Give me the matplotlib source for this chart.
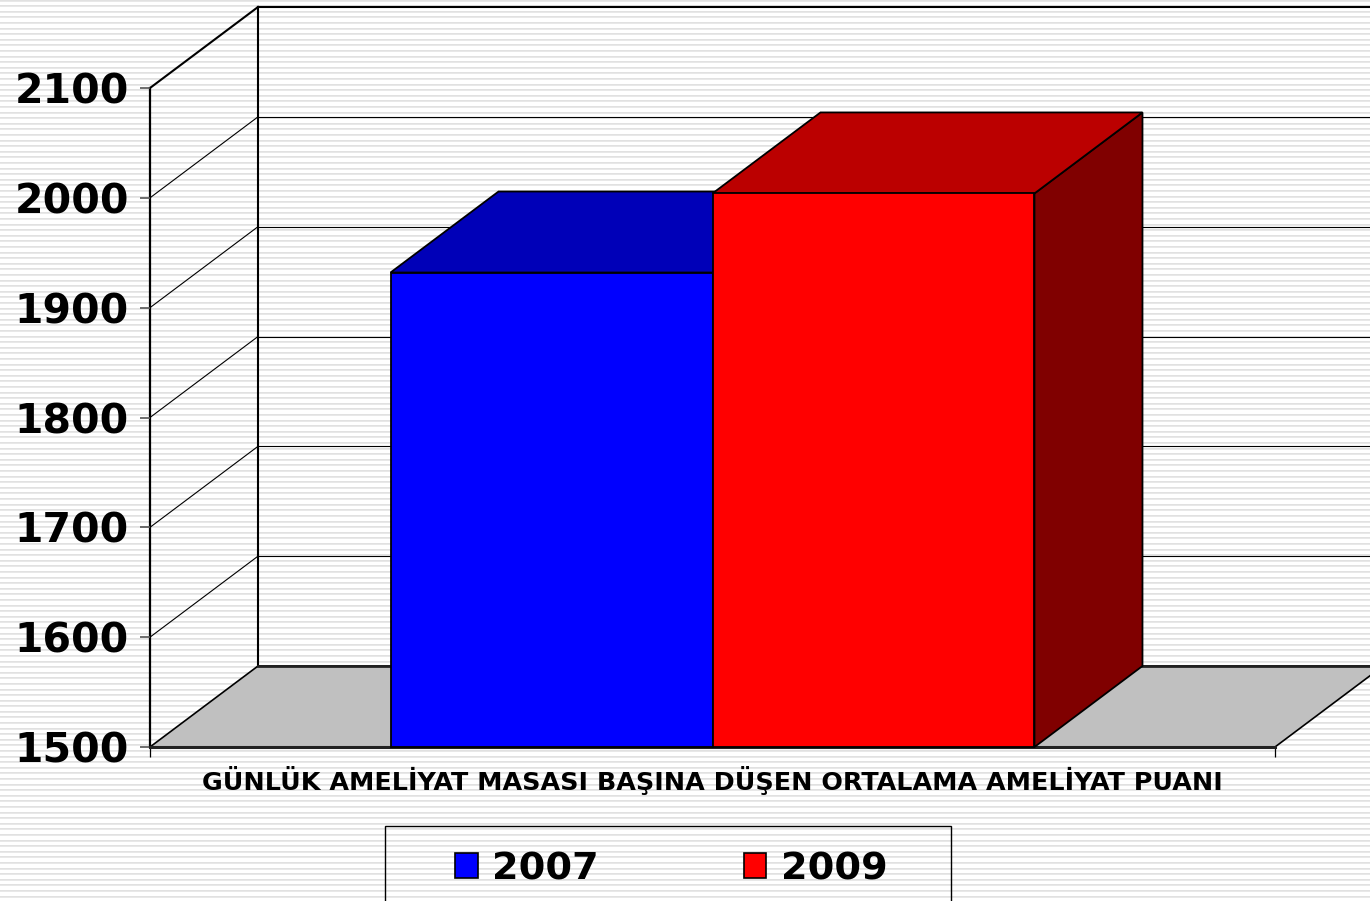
import numpy as np
import matplotlib
matplotlib.use("Agg")
import matplotlib.pyplot as plt
from matplotlib.patches import Polygon, Patch, Rectangle

# chart data
category = "GÜNLÜK AMELİYAT MASASI BAŞINA DÜŞEN ORTALAMA AMELİYAT PUANI"
years = ["2007", "2009"]
values = [1932, 2004]
yticks = [1500, 1600, 1700, 1800, 1900, 2000, 2100]

front_colors = ["#0000ff", "#ff0000"]
top_colors = ["#0000b8", "#bb0000"]
side_colors = ["#000080", "#800000"]

W, H = 1370, 901
fig = plt.figure(figsize=(W / 100, H / 100), dpi=100)

# striped background
bg = fig.add_axes([0, 0, 1, 1], zorder=-10)
rows = np.arange(H)
phase = (rows + 0.8) % 5.6
level = np.where(phase < 1.0, 0.88, np.where(phase < 2.0, 0.91, 1.0))
bg.imshow(np.repeat(level[:, None], 4, axis=1), cmap="gray", vmin=0, vmax=1,
          aspect="auto", interpolation="nearest", extent=(0, 1, 0, 1))
bg.set_axis_off()

# front plane of the 3D box
x0px, x1px, ybot, ytop = 150, 1275, 747, 88
ax = fig.add_axes([x0px / W, (H - ybot) / H, (x1px - x0px) / W, (ybot - ytop) / H])
ax.set_facecolor("none")
ax.set_xlim(0, 1)
ax.set_ylim(yticks[0], yticks[-1])

# depth offset (data units)
px_per_unit = (ybot - ytop) / (yticks[-1] - yticks[0])
dx = 108 / (x1px - x0px)
dy = 81 / px_per_unit
lo, hi = yticks[0], yticks[-1]

# walls: left side edges, back wall edges and gridlines
ax.plot([0, dx], [hi, hi + dy], color="black", lw=1.5, clip_on=False, zorder=1)
ax.plot([dx, dx], [lo + dy, hi + dy], color="black", lw=1.5, clip_on=False, zorder=1)
ax.plot([dx, 1 + dx], [hi + dy, hi + dy], color="black", lw=1.5, clip_on=False, zorder=1)
for v in yticks[1:-1]:
    ax.plot([0, dx], [v, v + dy], color="black", lw=0.8, clip_on=False, zorder=1)
    ax.plot([dx, 1 + dx], [v + dy, v + dy], color="black", lw=0.8, clip_on=False, zorder=1)

# floor
floor = Polygon([(0, lo), (1, lo), (1 + dx, lo + dy), (dx, lo + dy)], closed=True,
                facecolor="#c0c0c0", edgecolor="black", lw=1.2, clip_on=False, zorder=2)
ax.add_patch(floor)
ax.plot([0, 1], [lo, lo], color="#222222", lw=2.2, clip_on=False, zorder=2.5)
ax.plot([dx, 1 + dx], [lo + dy, lo + dy], color="#222222", lw=2.0, clip_on=False, zorder=2.5)

# bars
group_w = 0.5724
bw = group_w / len(values)
start = 0.5 - group_w / 2
for i, v in enumerate(values):
    a = start + i * bw
    b = a + bw
    z = 3 + i
    side = Polygon([(b, lo), (b + dx, lo + dy), (b + dx, v + dy), (b, v)], closed=True,
                   facecolor=side_colors[i], edgecolor="black", lw=1.3, clip_on=False, zorder=z)
    top = Polygon([(a, v), (b, v), (b + dx, v + dy), (a + dx, v + dy)], closed=True,
                  facecolor=top_colors[i], edgecolor="black", lw=1.3, clip_on=False, zorder=z)
    front = Rectangle((a, lo), bw, v - lo, facecolor=front_colors[i], edgecolor="black",
                      lw=1.3, clip_on=False, zorder=z + 0.5)
    for p in (side, top, front):
        ax.add_patch(p)

# axes styling
for s in ("top", "right", "bottom"):
    ax.spines[s].set_visible(False)
ax.spines["left"].set_linewidth(1.6)
ax.spines["left"].set_color("black")
ax.spines["left"].set_zorder(1)
ax.set_yticks(yticks)
ax.set_yticklabels([str(t) for t in yticks], fontsize=29.5, fontweight="bold")
ax.tick_params(axis="y", length=7.2, width=1.2, color="#555555", pad=8)
ax.set_xticks([0, 1])
ax.set_xticklabels(["", ""])
ax.tick_params(axis="x", which="major", length=7.2, width=0.9, color="black")
ax.set_xticks([0.5], minor=True)
ax.set_xticklabels([category], minor=True, fontsize=18.3, fontweight="bold")
ax.tick_params(axis="x", which="minor", length=0, pad=14)

# legend with its own frame
handles = [Patch(facecolor=c, edgecolor="black", lw=1.2) for c in front_colors]
fig.legend(handles, years, loc="center", bbox_to_anchor=(671 / W, 1 - 869 / H),
           ncol=2, frameon=False, prop={"size": 27.5, "weight": "bold"},
           handlelength=0.6, handleheight=0.6, handletextpad=0.37, columnspacing=3.8)
fig.patches.append(Rectangle((385 / W, -0.05), (951 - 385) / W, 0.05 + (H - 826) / H,
                             transform=fig.transFigure, facecolor="none",
                             edgecolor="black", lw=1.0))

fig.savefig("out.png", dpi=100)
